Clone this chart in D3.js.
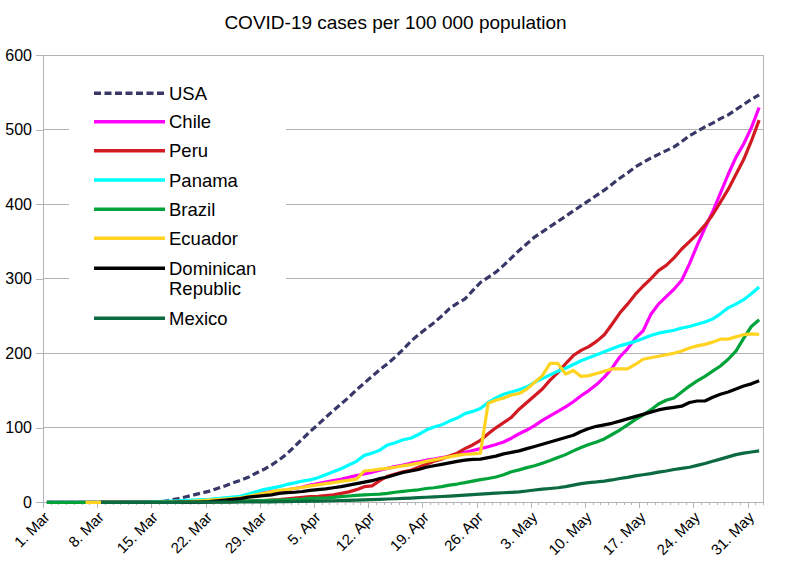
<!DOCTYPE html>
<html><head><meta charset="utf-8">
<script src="https://cdn.jsdelivr.net/npm/d3@7"></script>
<style>body{margin:0;background:#fff;} svg{display:block;font-family:"Liberation Sans",Arial,sans-serif;}</style>
</head><body><svg id="c" width="791" height="565"></svg>
<script>
// ---- data (index 0 = 1 Mar 2020, index 92 = 1 Jun 2020) ----
const dayCount = 93;
const tickDays = [0,7,14,21,28,35,42,49,56,63,70,77,84,91];
const tickLabels = ["1. Mar","8. Mar","15. Mar","22. Mar","29. Mar","5. Apr","12. Apr","19. Apr","26. Apr","3. May","10. May","17. May","24. May","31. May"];
const yTicks = [0,100,200,300,400,500,600];
const seriesNames = ["USA","Chile","Peru","Panama","Brazil","Ecuador","Dominican\nRepublic","Mexico"];
const seriesColors = ["#383868","#ff00ff","#d11a22","#00ffff","#00a33a","#ffd320","#000000","#0b6a3f"];

const usa = [0,0,0,0,0,0,0, 0,0,0,0.1,0.2,0.3,0.5, 0.7,1,3,5,7.5,10,12.5,
  15,18.5,22,26,29.5,33.5,39, 44,50,57,65,75,85,95, 104,114,123,132,141,151,160,
  169,178,186,195,205,216,225, 233,241,250,260,267,273,284, 295,302,309,318,328,338,347,
  356,363,370,377,384,391,398, 405,412,419,427,435,442,450, 456,462,467,472,477,484,492,
  498,504,509,515,520,527,534, 541,547];
const chile = [0,0,0,0,0,0,0, 0,0,0,0,0.1,0.1,0.2, 0.3,0.4,0.6,0.9,1.2,1.5,2,
  2.5,3,4,5.5,7,9,11, 13,14.5,15.5,16.5,18.5,20.5,23, 25,27,29,31,33.5,36,38,
  40.5,43,45.5,48,50,52.5,54.5, 56.5,58,60,61.5,64,67,69.5, 72,74.5,77.5,81,86,92,97,
  103,110,116,122,128,135,143, 150,158,168,180,195,206,220, 230,252,266,276,286,298,320,
  345,368,390,415,440,463,481, 503,530];
const peru = [0,0,0,0,0,0,0, 0,0,0,0,0,0,0, 0,0.1,0.1,0.1,0.1,0.2,0.2,
  0.3,0.4,0.6,0.9,1.2,1.5,1.8, 2.3,3,3.5,4.5,5.5,6.5,7.5, 8,9,10,12,14,17,21,
  22,29,35,38,41,43,47, 51,55,58,62,66,72,77, 83,92,100,107,114,125,134,
  143,152,164,174,186,197,204, 209,216,225,239,254,266,279, 290,300,311,318,328,340,350,
  360,372,386,403,420,440,460, 485,513];
const panama = [0,0,0,0,0,0,0, 0,0,0,0.1,0.2,0.3,0.5, 0.8,1.2,1.6,2,2.5,3,3.5,
  4,5,6,7,8,11,14, 17,19,21,24,26,28.5,30, 33,37,41,45,50,55,63,
  66,70,77,80,84,86,91, 97,101,104,109,113,119,122, 126,134,140,145,148,151,155,
  161,166,171,176,180,185,190, 194,198,202,206,210,213,216, 220,224,227,229,231,234,236,
  239,242,246,253,261,266,272, 280,289];
const brazil = [0,0,0,0,0,0,0, 0,0,0,0,0,0,0, 0,0.1,0.1,0.1,0.2,0.3,0.5,
  0.7,0.8,1,1.2,1.5,1.8,2, 2.2,2.6,2.9,3.3,3.8,4.4,5.3, 5.5,5.8,6.5,7.5,8.5,9.4,10,
  10.5,11,12,13.5,14.7,15.8,16.8, 18.5,19.5,21,23,24.5,26.5,28.5, 30.5,32,34,37,41,43.5,46.5,
  49,52.5,56,60,64,69,73.5, 77.5,81,85,91,97,104,111, 117,124,132,137,140,148,156,
  163,169,176,183,192,203,220, 236,245];
const ecuador = [null,null,null,null,null,0.01,0.01, 0.01,0.01,0.01,0.01,0.01,0.02,0.05, 0.1,0.2,0.4,0.7,1,1.5,2.2,
  3,3.5,4.2,5,6,8,10, 12,14,16,17,18.5,20,22, 23.5,25,26.5,28,29.5,31,42,
  43,44.5,45.5,47,49,50.5,52.5, 55,57,59,61,63,64.5,65, 66,133,137,140,144,146,152,
  161,170,186.5,186.5,172,177,169, 170,173,176,179,179,179,185, 192,194,196,198,200,203,207,
  210,212,215,219,219,222,225, 226,225.5];
const dominican = [null,null,null,null,null,null,null, 0,0,0,0,0,0,0, 0.1,0.1,0.1,0.2,0.2,0.3,0.5,
  1,2,3,4,5,7,8, 9,10,12,13,13.5,14.5,16, 17,18,19.5,21,23,25,27,
  29,32,34,37,40,42,44, 47,49,51,53,55,56.5,57.5, 58,60,62,65,67,69,72,
  75,78,81,84,87,90,95, 99,102,104,106,109,112,115, 118,121,124,126,127.5,129,134,
  136,136,141,145,148,152,156, 159,163];
const mexico = [null,null,null,null,null,null,null, 0,0,0,0,0,0,0, 0,0,0,0,0.1,0.1,0.2,
  0.2,0.2,0.3,0.3,0.4,0.4,0.5, 0.6,0.7,0.8,1,1.1,1.3,1.5, 1.7,1.9,2.1,2.4,2.7,3,3.3,
  3.6,4,4.4,4.8,5.2,5.7,6.2, 6.8,7.3,7.8,8.4,9,9.6,10.3, 11,11.7,12.3,12.8,13.4,14,15.2,
  16.5,17.6,18.5,19.5,21,23,25, 26.5,27.3,28.5,30,32,33.5,35.5, 37,38.5,40.5,42,44,45.5,47,
  49.5,52,55,58,61,64,66, 67.5,69];
const seriesValues = [usa, chile, peru, panama, brazil, ecuador, dominican, mexico];

// ---- layout ----
const svg = d3.select("#c");
const L = 43, R = 763, T = 55.3, B = 502.3;
const x = d3.scaleLinear().domain([0, dayCount]).range([L, R]);
const y = d3.scaleLinear().domain([0, 600]).range([B, T]);
const grid = "#b3b3b3";

svg.append("text").attr("x", 395.5).attr("y", 29).attr("text-anchor", "middle")
  .attr("font-size", 19).attr("fill", "#000").text("COVID-19 cases per 100 000 population");

// gridlines
svg.append("g").selectAll("line").data(yTicks.filter(d => d > 0)).join("line")
  .attr("x1", L).attr("x2", R).attr("y1", d => y(d)).attr("y2", d => y(d))
  .attr("stroke", grid).attr("stroke-width", 1).attr("shape-rendering", "crispEdges");
svg.append("line").attr("x1", R).attr("x2", R).attr("y1", T).attr("y2", B)
  .attr("stroke", grid).attr("shape-rendering", "crispEdges");

// y axis
const gy = svg.append("g").attr("transform", `translate(${L},0)`)
  .call(d3.axisLeft(y).tickValues(yTicks).tickSize(7).tickSizeOuter(0).tickPadding(4));
gy.selectAll("path,line").attr("stroke", grid).attr("shape-rendering", "crispEdges");
gy.selectAll("text").attr("font-size", 16).attr("fill", "#000").attr("font-family", "Liberation Sans, Arial, sans-serif");

// x axis minor
const gxm = svg.append("g").attr("transform", `translate(0,${B})`)
  .call(d3.axisBottom(x).tickValues(d3.range(0, dayCount + 1)).tickSize(3).tickSizeOuter(0).tickFormat(""));
gxm.selectAll("path,line").attr("stroke", grid).attr("shape-rendering", "crispEdges");
// x axis major
const gx = svg.append("g").attr("transform", `translate(0,${B})`)
  .call(d3.axisBottom(x).tickValues(tickDays).tickSize(6).tickSizeOuter(0).tickFormat((d, i) => tickLabels[i]));
gx.select("path").remove();
gx.selectAll("line").attr("stroke", grid).attr("shape-rendering", "crispEdges");
gx.selectAll("text").attr("font-size", 15).attr("fill", "#000").attr("font-family", "Liberation Sans, Arial, sans-serif")
  .attr("text-anchor", "end").attr("x", 0).attr("y", 0).attr("dy", 0)
  .attr("transform", "translate(7,16) rotate(-45)");

// lines
const line = d3.line().defined(d => d != null).x((d, i) => x(i + 0.5)).y(d => y(d));
seriesValues.forEach((vals, k) => {
  svg.append("path").datum(vals).attr("d", line).attr("fill", "none")
    .attr("stroke", seriesColors[k]).attr("stroke-width", 3.2)
    .attr("stroke-linejoin", "round")
    .attr("stroke-dasharray", k === 0 ? "7,3.5" : null);
});

// legend
const lg = svg.append("g");
lg.append("rect").attr("x", 69).attr("y", 72).attr("width", 217).attr("height", 268).attr("fill", "#fff");
const legendY = [93.3, 121.7, 150.7, 180, 209.3, 238.3, 268.3, 318.3];
seriesNames.forEach((name, k) => {
  const yy = legendY[k];
  lg.append("line").attr("x1", 94).attr("x2", 165).attr("y1", yy).attr("y2", yy)
    .attr("stroke", seriesColors[k]).attr("stroke-width", 3.5)
    .attr("stroke-dasharray", k === 0 ? "7,3.5" : null);
  const t = lg.append("text").attr("x", 169).attr("y", yy + 6.5).attr("font-size", 18.5).attr("fill", "#000");
  name.split("\n").forEach((part, j) => {
    t.append("tspan").attr("x", 169).attr("dy", j === 0 ? 0 : 20).text(part);
  });
});
</script></body></html>
